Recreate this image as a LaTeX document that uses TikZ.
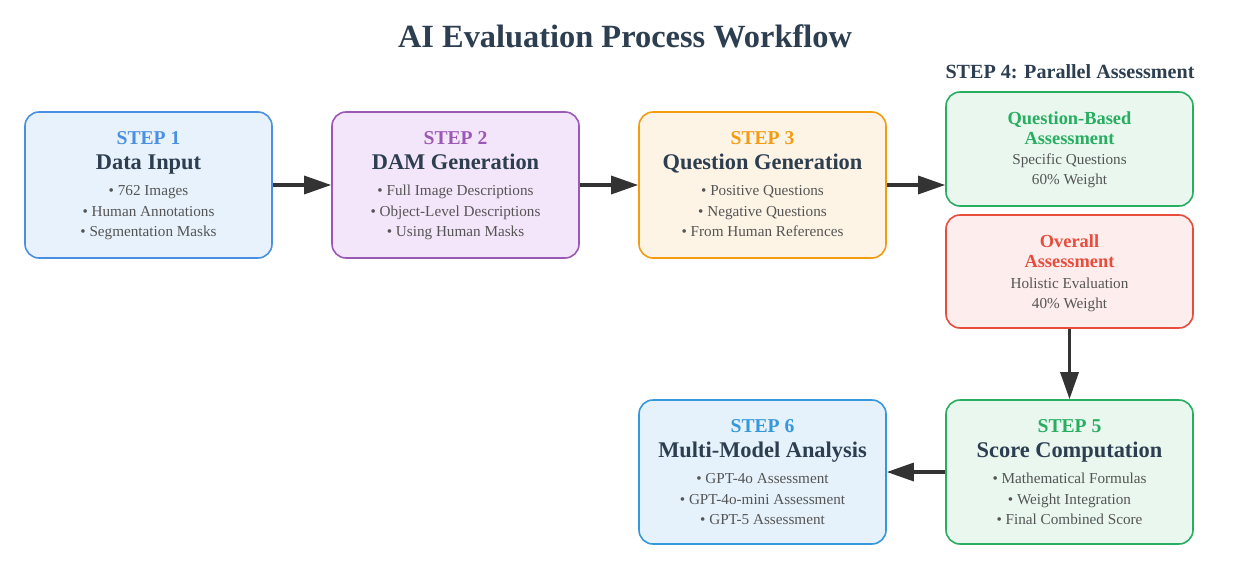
\documentclass[tikz,border=0pt]{standalone}
\usepackage{fontspec}
\setmainfont{Liberation Serif}
\usetikzlibrary{arrows.meta, positioning, shapes}
\definecolor{titlecol}{HTML}{2C3E50}
\definecolor{bodycol}{HTML}{555555}
\definecolor{arrowcol}{HTML}{333333}
\definecolor{blueA}{HTML}{4A90E2}
\definecolor{blueAfill}{HTML}{E8F2FC}
\definecolor{purpleB}{HTML}{9B59B6}
\definecolor{purpleBfill}{HTML}{F4E6FA}
\definecolor{orangeC}{HTML}{F39C12}
\definecolor{orangeCfill}{HTML}{FEF4E6}
\definecolor{greenD}{HTML}{27AE60}
\definecolor{greenDfill}{HTML}{E9F7EF}
\definecolor{redE}{HTML}{E74C3C}
\definecolor{redEfill}{HTML}{FDEDEC}
\definecolor{blueF}{HTML}{3498DB}
\definecolor{blueFfill}{HTML}{E5F2FB}
\tikzset{
    stepbox/.style n args={3}{
        draw=#1, fill=#2, line width=1.6pt, rounded corners=14pt,
        minimum width=247pt, minimum height=#3, inner sep=0pt
    },
    steplabel/.style={anchor=base, font=\fontsize{19.6}{22}\selectfont\bfseries},
    headline/.style={anchor=base, text=titlecol, font=\fontsize{22.4}{25}\selectfont\bfseries},
    sublabel/.style={anchor=base, font=\fontsize{18.4}{20}\selectfont\bfseries},
    bullet/.style={anchor=base, text=bodycol, font=\fontsize{15.2}{18}\selectfont},
    flow/.style={draw=arrowcol, line width=3.2pt, -{Triangle[length=27pt,width=18pt]}}
}
\begin{document}
\begin{tikzpicture}[x=1pt, y=-1pt]
    \useasboundingbox (0,0) rectangle (1233,570);
    \node[anchor=base, text=titlecol, font=\fontsize{32.4}{36}\selectfont\bfseries] (title) at (625,47) {AI Evaluation Process Workflow};
    \node[anchor=base, text=titlecol, font=\fontsize{20.1}{22}\selectfont\bfseries] (par) at (1070,78) {STEP 4: Parallel Assessment};
    % top row
    \node[stepbox={blueA}{blueAfill}{146pt}] (s1) at (148.5,185) {};
    \node[stepbox={purpleB}{purpleBfill}{146pt}] (s2) at (455.5,185) {};
    \node[stepbox={orangeC}{orangeCfill}{146pt}] (s3) at (762.5,185) {};
    \node[stepbox={greenD}{greenDfill}{114pt}] (s4a) at (1069.5,149) {};
    \node[stepbox={redE}{redEfill}{113pt}] (s4b) at (1069.5,271.5) {};
    \node[stepbox={greenD}{greenDfill}{144pt}] (s5) at (1069.5,472) {};
    \node[stepbox={blueF}{blueFfill}{144pt}] (s6) at (762.5,472) {};

    \node[steplabel, text=blueA] (s1step) at (148.5,144) {STEP 1};
    \node[headline] (s1head) at (148.5,169) {Data Input};
    \foreach \t [count=\i] in {• 762 Images, • Human Annotations, • Segmentation Masks}
        \node[bullet] (s1b\i) at (148.5,{175+20.5*\i}) {\t};

    \node[steplabel, text=purpleB] (s2step) at (455.5,144) {STEP 2};
    \node[headline] (s2head) at (455.5,169) {DAM Generation};
    \foreach \t [count=\i] in {• Full Image Descriptions, • Object-Level Descriptions, • Using Human Masks}
        \node[bullet] (s2b\i) at (455.5,{175+20.5*\i}) {\t};

    \node[steplabel, text=orangeC] (s3step) at (762.5,144) {STEP 3};
    \node[headline] (s3head) at (762.5,169) {Question Generation};
    \foreach \t [count=\i] in {• Positive Questions, • Negative Questions, • From Human References}
        \node[bullet] (s3b\i) at (762.5,{175+20.5*\i}) {\t};

    \node[sublabel, text=greenD] (s4aq) at (1069.5,124) {Question-Based};
    \node[sublabel, text=greenD] (s4aa) at (1069.5,144) {Assessment};
    \node[bullet] (s4a1) at (1069.5,164) {Specific Questions};
    \node[bullet] (s4a2) at (1069.5,184) {60\% Weight};

    \node[sublabel, text=redE] (s4bo) at (1069.5,247) {Overall};
    \node[sublabel, text=redE] (s4ba) at (1069.5,267) {Assessment};
    \node[bullet] (s4b1) at (1069.5,288) {Holistic Evaluation};
    \node[bullet] (s4b2) at (1069.5,308) {40\% Weight};

    \node[steplabel, text=greenD] (s5step) at (1069.5,432) {STEP 5};
    \node[headline] (s5head) at (1069.5,457) {Score Computation};
    \foreach \t [count=\i] in {• Mathematical Formulas, • Weight Integration, • Final Combined Score}
        \node[bullet] (s5b\i) at (1069.5,{463+20.5*\i}) {\t};

    \node[steplabel, text=blueF] (s6step) at (762.5,432) {STEP 6};
    \node[headline] (s6head) at (762.5,457) {Multi-Model Analysis};
    \foreach \t [count=\i] in {• GPT-4o Assessment, • GPT-4o-mini Assessment, • GPT-5 Assessment}
        \node[bullet] (s6b\i) at (762.5,{463+20.5*\i}) {\t};

    \draw[flow] (s1) -- (s2);
    \draw[flow] (s2) -- (s3);
    \draw[flow] (s3.east) -- (s3.east -| s4a.west);
    \draw[flow] (s4b) -- (s5);
    \draw[flow] (s5) -- (s6);
\end{tikzpicture}
\end{document}
